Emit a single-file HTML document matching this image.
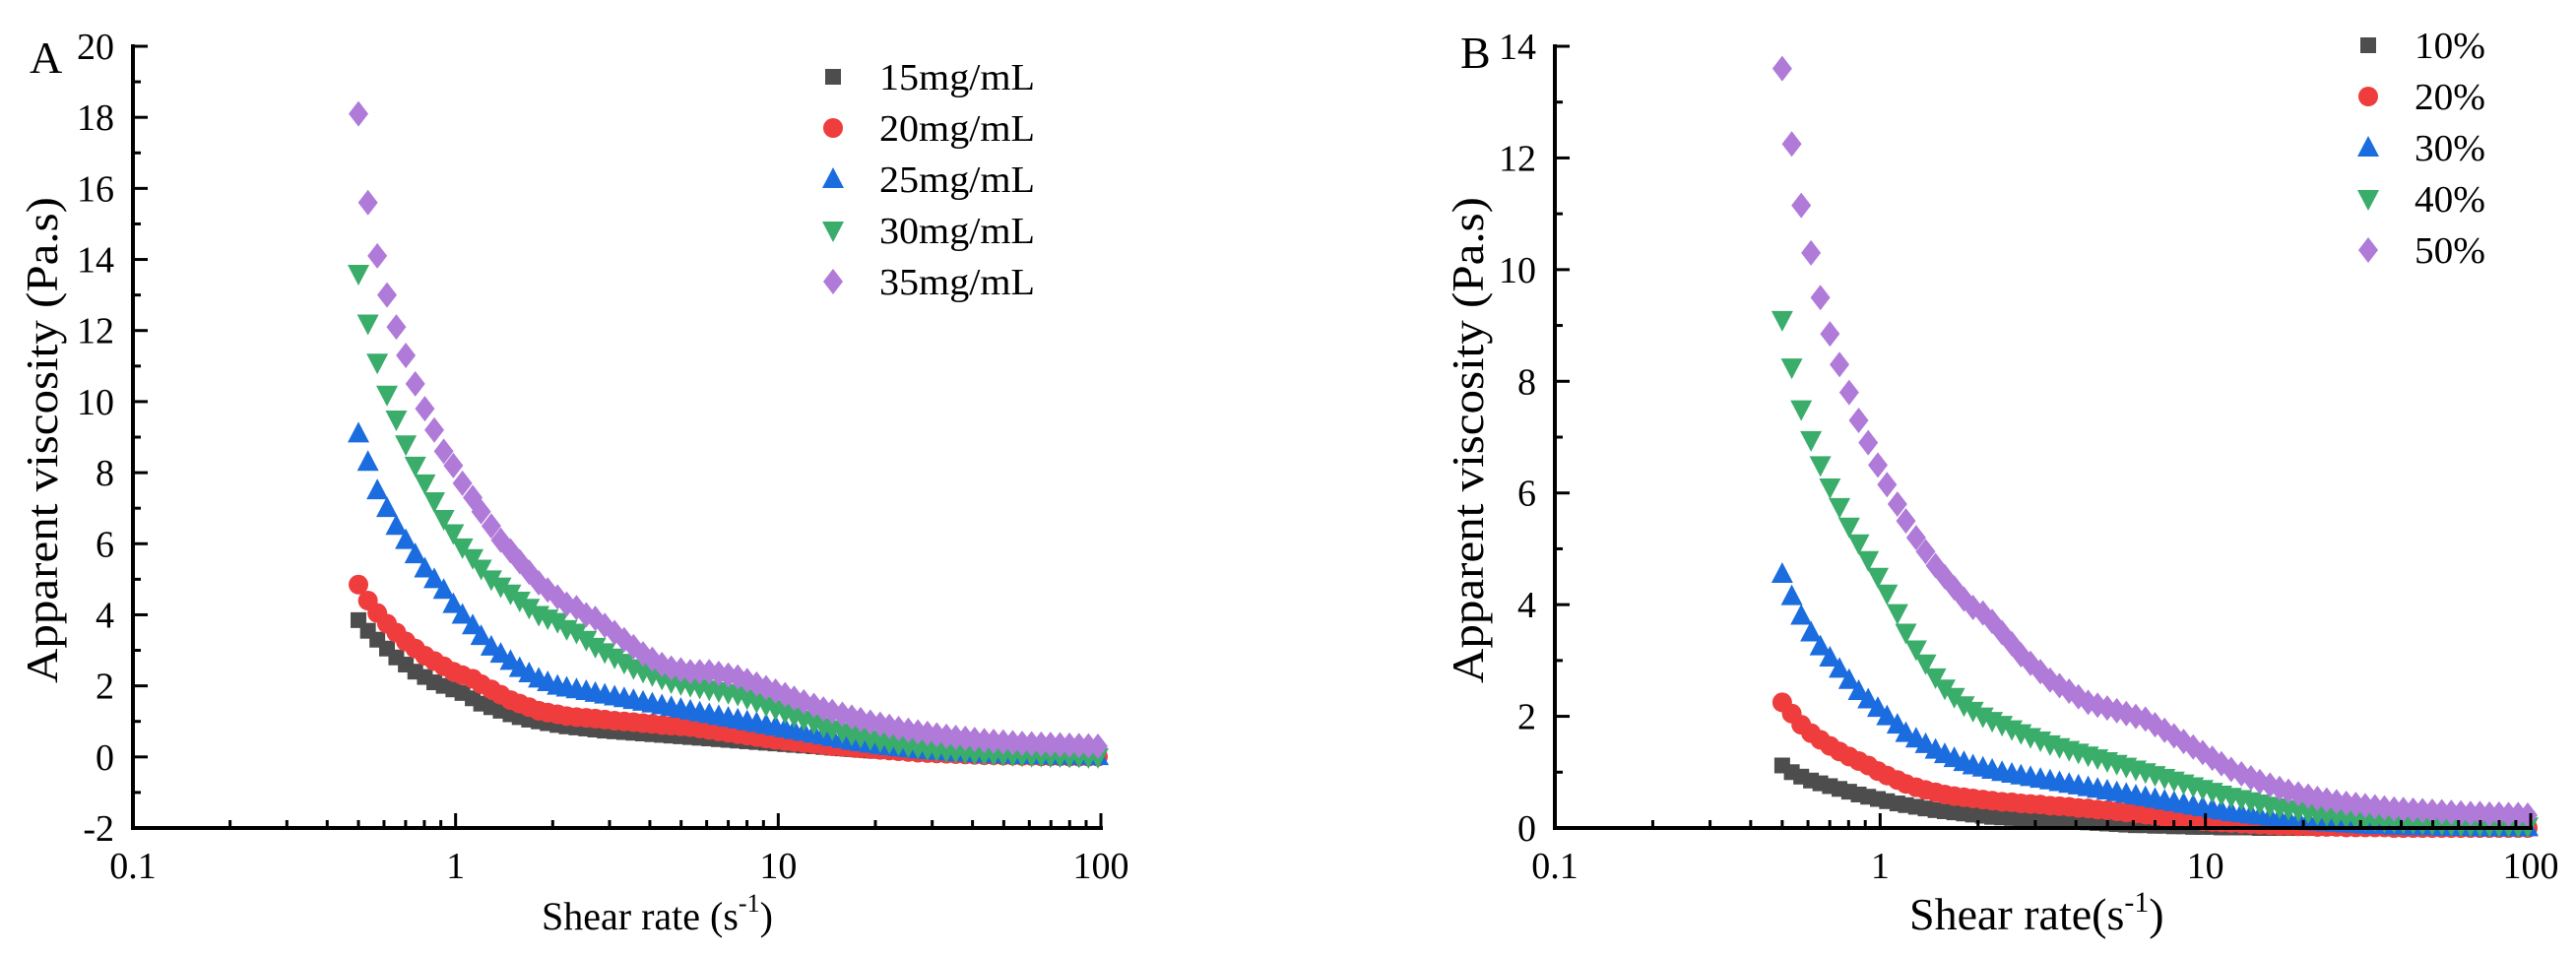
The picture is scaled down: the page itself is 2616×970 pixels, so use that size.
<!DOCTYPE html>
<html><head><meta charset="utf-8"><style>
html,body{margin:0;padding:0;background:#fff;}
svg{display:block;font-family:"Liberation Serif",serif;}
</style></head><body>
<svg id="chart" width="2616" height="970" viewBox="0 0 2616 970" xmlns="http://www.w3.org/2000/svg"></svg>
<script>
const shearRates=[0.50,0.535,0.572,0.613,0.655,0.701,0.750,0.803,0.859,0.919,0.984,1.05,1.13,1.20,1.29,1.38,1.48,1.58,1.69,1.81,1.93,2.07,2.21,2.37,2.54,2.71,2.90,3.11,3.33,3.56,3.81,4.07,4.36,4.66,4.99,5.34,5.71,6.11,6.54,7.00,7.49,8.01,8.57,9.17,9.81,10.5,11.2,12.0,12.9,13.8,14.7,15.8,16.9,18.0,19.3,20.7,22.1,23.6,25.3,27.1,29.0,31.0,33.2,35.5,38.0,40.6,43.5,46.5,49.8,53.3,57.0,61.0,65.3,69.8,74.7,79.9,85.5,91.5,97.9];

const seriesNamesA=["15mg/mL","20mg/mL","25mg/mL","30mg/mL","35mg/mL"];
const a15=[3.85,3.55,3.3,3.05,2.8,2.6,2.4,2.25,2.1,2.0,1.9,1.8,1.65,1.5,1.4,1.3,1.2,1.12,1.05,1.0,0.95,0.9,0.86,0.83,0.8,0.77,0.74,0.72,0.7,0.68,0.66,0.64,0.62,0.6,0.58,0.56,0.54,0.52,0.5,0.48,0.46,0.44,0.42,0.4,0.38,0.36,0.34,0.32,0.3,0.28,0.26,0.24,0.22,0.2,0.18,0.17,0.16,0.15,0.14,0.13,0.12,0.11,0.1,0.09,0.08,0.07,0.07,0.06,0.06,0.05,0.05,0.04,0.04,0.04,0.03,0.03,0.03,0.03,0.03];
const a20=[4.85,4.4,4.05,3.75,3.5,3.25,3.05,2.85,2.7,2.55,2.4,2.3,2.2,2.05,1.9,1.75,1.6,1.5,1.4,1.3,1.25,1.2,1.15,1.12,1.1,1.08,1.05,1.02,1.0,0.98,0.95,0.93,0.9,0.88,0.86,0.84,0.8,0.76,0.72,0.68,0.64,0.6,0.56,0.52,0.48,0.45,0.42,0.39,0.36,0.33,0.3,0.28,0.26,0.24,0.22,0.2,0.18,0.16,0.14,0.12,0.11,0.1,0.09,0.08,0.07,0.06,0.05,0.05,0.04,0.04,0.03,0.03,0.02,0.02,0.02,0.01,0.01,0.01,0.01];
const a25=[9.1,8.3,7.5,7.0,6.5,6.1,5.7,5.3,5.0,4.7,4.3,4.0,3.7,3.4,3.1,2.9,2.7,2.5,2.35,2.2,2.1,2.0,1.95,1.9,1.85,1.8,1.75,1.7,1.65,1.6,1.55,1.5,1.45,1.4,1.35,1.3,1.25,1.2,1.15,1.1,1.05,1.0,0.95,0.9,0.85,0.8,0.75,0.7,0.65,0.6,0.55,0.5,0.45,0.41,0.37,0.33,0.3,0.27,0.24,0.21,0.19,0.17,0.15,0.13,0.12,0.1,0.09,0.08,0.07,0.06,0.05,0.05,0.04,0.04,0.03,0.03,0.03,0.02,0.02];
const a30=[13.6,12.2,11.1,10.2,9.5,8.8,8.2,7.7,7.2,6.7,6.3,5.9,5.6,5.3,5.0,4.8,4.6,4.4,4.2,4.0,3.9,3.8,3.6,3.5,3.3,3.1,2.95,2.8,2.65,2.5,2.4,2.3,2.2,2.1,2.05,2.0,1.95,1.9,1.85,1.8,1.75,1.65,1.55,1.45,1.35,1.25,1.15,1.05,0.95,0.85,0.78,0.7,0.63,0.57,0.5,0.45,0.4,0.35,0.3,0.26,0.22,0.19,0.16,0.14,0.12,0.1,0.08,0.07,0.06,0.05,0.04,0.03,0.03,0.02,0.02,0.01,0.01,0.0,0.0];
const a35=[18.1,15.6,14.1,13.0,12.1,11.3,10.5,9.8,9.2,8.6,8.2,7.7,7.3,6.9,6.5,6.1,5.8,5.5,5.2,4.9,4.7,4.5,4.3,4.2,4.0,3.9,3.7,3.5,3.3,3.1,2.9,2.75,2.6,2.5,2.45,2.4,2.4,2.4,2.35,2.3,2.25,2.15,2.05,1.95,1.85,1.75,1.65,1.55,1.45,1.35,1.28,1.2,1.12,1.05,0.98,0.92,0.86,0.8,0.75,0.7,0.66,0.62,0.58,0.55,0.52,0.49,0.46,0.44,0.42,0.4,0.38,0.37,0.36,0.35,0.34,0.33,0.32,0.31,0.3];

const seriesNamesB=["10%","20%","30%","40%","50%"];
const b10=[1.12,1.0,0.92,0.85,0.8,0.75,0.7,0.65,0.6,0.56,0.52,0.48,0.44,0.41,0.38,0.35,0.32,0.3,0.28,0.26,0.24,0.22,0.2,0.19,0.18,0.17,0.16,0.15,0.14,0.13,0.12,0.11,0.1,0.09,0.08,0.07,0.06,0.05,0.05,0.04,0.04,0.03,0.03,0.02,0.02,0.02,0.01,0.01,0.01,0.01,0,0,0,0,0,0,0,0,0,0,0,0,0,0,0,0,0,0,0,0,0,0,0,0,0,0,0,0,0];
const b20=[2.25,2.05,1.85,1.7,1.58,1.47,1.37,1.28,1.2,1.12,1.02,0.94,0.86,0.79,0.73,0.68,0.64,0.6,0.57,0.55,0.53,0.51,0.49,0.47,0.46,0.44,0.43,0.42,0.4,0.39,0.38,0.36,0.35,0.33,0.32,0.3,0.28,0.26,0.24,0.22,0.2,0.18,0.16,0.14,0.12,0.11,0.1,0.09,0.08,0.07,0.06,0.05,0.04,0.04,0.03,0.03,0.02,0.02,0.02,0.01,0.01,0.01,0.01,0.01,0,0,0,0,0,0,0,0,0,0,0,0,0,0,0];
const b30=[4.55,4.15,3.8,3.5,3.25,3.05,2.85,2.65,2.45,2.3,2.15,2.0,1.85,1.7,1.6,1.5,1.4,1.32,1.25,1.18,1.12,1.08,1.04,1.0,0.97,0.94,0.91,0.88,0.85,0.82,0.79,0.76,0.73,0.7,0.67,0.64,0.61,0.58,0.55,0.52,0.49,0.46,0.43,0.4,0.37,0.34,0.31,0.28,0.26,0.24,0.22,0.2,0.18,0.16,0.14,0.12,0.11,0.1,0.09,0.08,0.07,0.06,0.05,0.05,0.04,0.04,0.03,0.03,0.03,0.02,0.02,0.02,0.02,0.01,0.01,0.01,0.01,0.01,0.01];
const b40=[9.1,8.25,7.5,6.95,6.5,6.1,5.75,5.4,5.1,4.8,4.5,4.2,3.85,3.5,3.2,2.95,2.7,2.5,2.35,2.2,2.1,2.0,1.92,1.85,1.77,1.7,1.63,1.57,1.5,1.45,1.4,1.35,1.3,1.25,1.2,1.15,1.1,1.05,1.0,0.95,0.9,0.85,0.8,0.75,0.7,0.65,0.6,0.56,0.52,0.48,0.44,0.4,0.37,0.34,0.31,0.28,0.25,0.23,0.21,0.19,0.17,0.15,0.14,0.12,0.11,0.1,0.09,0.08,0.07,0.07,0.06,0.05,0.05,0.05,0.04,0.04,0.04,0.03,0.03];
const b50=[13.6,12.25,11.15,10.3,9.5,8.85,8.3,7.8,7.3,6.9,6.5,6.15,5.8,5.5,5.2,4.95,4.7,4.5,4.3,4.1,3.95,3.85,3.7,3.5,3.3,3.1,2.95,2.8,2.65,2.55,2.45,2.35,2.25,2.2,2.15,2.1,2.05,2.0,1.95,1.85,1.75,1.65,1.55,1.45,1.35,1.25,1.15,1.05,0.97,0.9,0.83,0.77,0.71,0.66,0.61,0.57,0.53,0.5,0.47,0.44,0.42,0.4,0.38,0.36,0.34,0.33,0.32,0.31,0.3,0.29,0.28,0.27,0.26,0.26,0.25,0.25,0.24,0.24,0.23];

const yTicksA=[-2,0,2,4,6,8,10,12,14,16,18,20];
const yTicksB=[0,2,4,6,8,10,12,14];
const xTickLabels=["0.1","1","10","100"];

const NS="http://www.w3.org/2000/svg";
const svg=document.getElementById('chart');
const colors=["#4d4d4d","#ef3d3d","#1b6ddf","#3aad6b","#b07ad9"];
const shapes=["square","circle","up","down","diamond"];

function el(tag,attrs,parent){const e=document.createElementNS(NS,tag);for(const k in attrs)e.setAttribute(k,attrs[k]);(parent||svg).appendChild(e);return e;}

function marker(g,shape,x,y,c){
  let e;
  if(shape==="square"){e=el('rect',{x:x-8,y:y-8,width:16,height:16,fill:c},g);}
  else if(shape==="circle"){e=el('circle',{cx:x,cy:y,r:10,fill:c},g);}
  else if(shape==="up"){e=el('polygon',{points:`${x},${y-12} ${x+11},${y+9} ${x-11},${y+9}`,fill:c},g);}
  else if(shape==="down"){e=el('polygon',{points:`${x},${y+12} ${x+11},${y-9} ${x-11},${y-9}`,fill:c},g);}
  else {e=el('polygon',{points:`${x},${y-13} ${x+10},${y} ${x},${y+13} ${x-10},${y}`,fill:c},g);}
  return e;
}

function panel(cfg){
  const {id,x0,x1,yTop,yBot,yMin,yMax,yTicks,series,names,letter,letterX,letterY,yTitleX,xTitle,xTitleX,xTitleSize,legX,legY0,legDy,legW}=cfg;
  const g=el('g',{});
  
  
  const xs=v=>x0+(Math.log10(v)+1)/3*(x1-x0);
  const ys=v=>yBot-(v-yMin)/(yMax-yMin)*(yBot-yTop);
  series.forEach((s,si)=>{
    const sg=el('g',{},g);
    
    
    const n=Math.min(s.length,shearRates.length);
    for(let i=0;i<n;i++){
      const m=marker(sg,shapes[si],xs(shearRates[i]),ys(s[i]),colors[si]);
      
      
    }
  });
  const ax=el('g',{stroke:'#000','stroke-width':4,fill:'none'},g);
  
  
  el('line',{x1:x0,y1:yTop-2,x2:x0,y2:yBot+2},ax);
  el('line',{x1:x0-2,y1:yBot,x2:x1+2,y2:yBot},ax);
  const step=yTicks[1]-yTicks[0];
  yTicks.forEach((t,i)=>{
    const y=ys(t);
    el('line',{x1:x0,y1:y,x2:x0+15,y2:y,'stroke-width':3},ax);
    if(i<yTicks.length-1){const ym=ys(t+step/2);el('line',{x1:x0,y1:ym,x2:x0+8,y2:ym,'stroke-width':3},ax);}
    const tx=el('text',{x:x0-19,y:y+13,'text-anchor':'end','font-size':38,fill:'#000',stroke:'none'},g);
    tx.textContent=t;
    
    
  });
  for(let d=0;d<3;d++){
    for(let k=1;k<10;k++){
      const v=Math.pow(10,d-1)*k;const x=xs(v);
      el('line',{x1:x,y1:yBot,x2:x,y2:yBot-(k===1?15:8),'stroke-width':3},ax);
    }
  }
  el('line',{x1:x1,y1:yBot,x2:x1,y2:yBot-15,'stroke-width':3},ax);
  xTickLabels.forEach((l,i)=>{
    const tx=el('text',{x:x0+i*(x1-x0)/3,y:yBot+51,'text-anchor':'middle','font-size':38,fill:'#000'},g);
    tx.textContent=l;
    
    
  });
  const yt=el('text',{x:0,y:0,transform:`translate(${yTitleX},447) rotate(-90)`,'text-anchor':'middle','font-size':46,fill:'#000',textLength:494,lengthAdjust:'spacingAndGlyphs'},g);
  yt.textContent="Apparent viscosity (Pa.s)";
  
  
  const xt=el('text',{x:xTitleX,y:944,'font-size':xTitleSize,fill:'#000'},g);
  
  
  const t1=el('tspan',{},xt);t1.textContent=xTitle;
  const t2=el('tspan',{dy:-18,'font-size':xTitleSize*0.65},xt);t2.textContent="-1";
  const t3=el('tspan',{dy:18},xt);t3.textContent=")";
  const lt=el('text',{x:letterX,y:letterY,'font-size':46,fill:'#000'},g);
  lt.textContent=letter;
  
  
  const lg=el('g',{},g);
  
  
  names.forEach((nm,i)=>{
    const eg=el('g',{},lg);
    
    
    const y=legY0+i*legDy;
    marker(eg,shapes[i],legX,y,colors[i]);
    const t=el('text',{x:legX+47,y:y+13,'font-size':38,fill:'#000',textLength:legW,lengthAdjust:'spacingAndGlyphs'},eg);
    t.textContent=nm;
  });
}

panel({id:'panel-a',x0:135,x1:1118,yTop:47,yBot:841,yMin:-2,yMax:20,yTicks:yTicksA,
  series:[a15,a20,a25,a30,a35],names:seriesNamesA,letter:'A',letterX:30,letterY:74,yTitleX:58,
  xTitle:"Shear rate (s",xTitleX:550,xTitleSize:40,legX:846,legY0:78,legDy:52,legW:158});
panel({id:'panel-b',x0:1579,x1:2570,yTop:47,yBot:841,yMin:0,yMax:14,yTicks:yTicksB,
  series:[b10,b20,b30,b40,b50],names:seriesNamesB,letter:'B',letterX:1483,letterY:69,yTitleX:1506,
  xTitle:"Shear rate(s",xTitleX:1939,xTitleSize:46,legX:2405,legY0:46,legDy:52,legW:72});
</script>
</body></html>
